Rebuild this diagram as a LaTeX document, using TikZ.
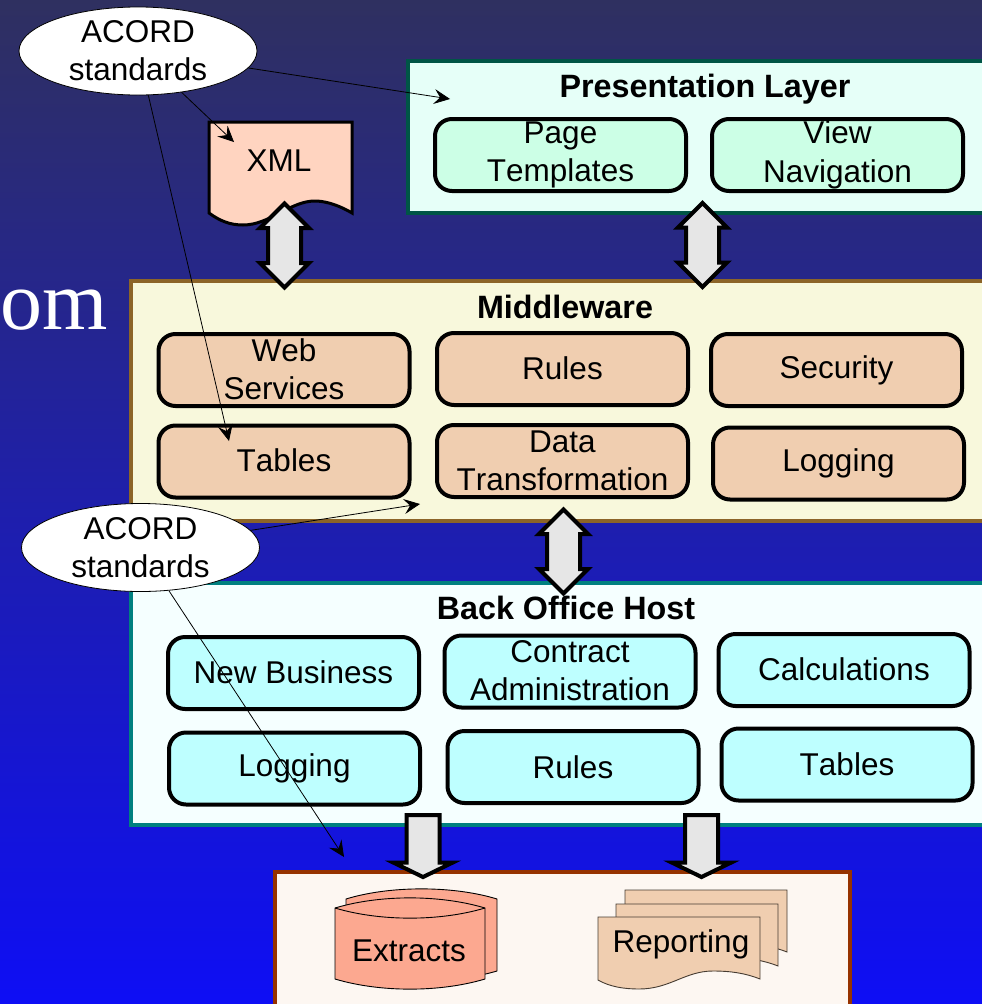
\documentclass[tikz,border=0pt]{standalone}
\usepackage{fontspec}
\setmainfont[Kerning=Off]{Liberation Sans}
\newfontfamily\romfont{Liberation Serif}
\usetikzlibrary{shapes,shapes.arrows,arrows.meta}
\definecolor{bgtop}{RGB}{47,48,96}
\definecolor{bgbottom}{RGB}{14,14,245}

\begin{document}
\begin{tikzpicture}[x=1pt,y=-1pt]
    \tikzstyle{every node}=[font=\fontsize{31.5}{38.5}\selectfont,align=center,inner sep=0pt]
    \tikzstyle{layerbox}=[rectangle,line width=4pt]
    \tikzstyle{itembox}=[rectangle,draw,line width=4pt,rounded corners=17pt,minimum width=251pt,minimum height=72pt]
    \tikzstyle{topitem}=[itembox,fill={rgb,255:red,204;green,255;blue,230}]
    \tikzstyle{miditem}=[itembox,fill={rgb,255:red,240;green,206;blue,176}]
    \tikzstyle{backitem}=[itembox,fill={rgb,255:red,190;green,255;blue,255}]
    \tikzstyle{title}=[font=\fontsize{32.3}{38}\selectfont\bfseries]
    \tikzstyle{bothways}=[double arrow,draw,line width=4pt,fill={rgb,255:red,230;green,230;blue,230},inner sep=14.5pt,minimum height=84pt,double arrow head extend=8pt,shape border rotate=90]
    \tikzstyle{oneway}=[single arrow,draw,line width=4pt,fill={rgb,255:red,230;green,230;blue,230},inner sep=14.5pt,minimum height=62pt,single arrow head extend=13pt,single arrow tip angle=128,shape border rotate=270]
    \tikzstyle{acord}=[ellipse,draw,fill=white,line width=0.8pt,minimum width=238pt,minimum height=88pt]
    \tikzstyle{pointer}=[-{Stealth[length=16pt,width=15pt,inset=6pt]},line width=0.8pt]
    \clip (0,0) rectangle (982,1004);
    \shade[top color=bgtop,bottom color=bgbottom] (0,0) rectangle (982,1004);
    \node[text=white,font=\romfont\fontsize{84}{90}\selectfont,anchor=base west] (rom) at (0,329) {om};
    % layers
    \node[layerbox,draw={rgb,255:red,0;green,85;blue,70},fill={rgb,255:red,230;green,255;blue,248},minimum width=652pt,minimum height=152pt] (presentation) at (734,137) {};
    \node[layerbox,draw={rgb,255:red,140;green,100;blue,40},fill={rgb,255:red,248;green,248;blue,220},minimum width=929pt,minimum height=240pt] (middleware) at (595.5,401) {};
    \node[layerbox,draw={rgb,255:red,0;green,128;blue,128},fill={rgb,255:red,245;green,255;blue,255},minimum width=929pt,minimum height=242pt] (backoffice) at (595.5,704) {};
    \node[layerbox,draw={rgb,255:red,150;green,50;blue,0},fill={rgb,255:red,253;green,247;blue,242},minimum width=575pt,minimum height=200pt] (output) at (562.5,972) {};
    \node[title] (presentationtitle) at (705,89) {Presentation Layer};
    \node[title] (middlewaretitle) at (565,307) {Middleware};
    \node[title] (backofficetitle) at (566,608) {Back Office Host};
    % presentation
    \node[topitem] (pages) at (560.5,155) {Page\\Templates};
    \node[topitem] (navigation) at (837.5,155) {View\\Navigation};
    % middleware
    \node[miditem] (webservices) at (284,370) {\raisebox{2pt}{Web}\\\raisebox{2pt}{Services}};
    \node[miditem] (midrules) at (562.5,369) {\raisebox{2pt}{Rules}};
    \node[miditem] (security) at (836.5,370) {\raisebox{-2pt}{Security}};
    \node[miditem] (midtables) at (284,461.5) {\raisebox{2pt}{Tables}};
    \node[miditem] (transform) at (562.5,461) {Data\\Transformation};
    \node[miditem] (midlogging) at (838.5,463.5) {\raisebox{-2pt}{Logging}};
    % back office
    \node[backitem] (newbusiness) at (293.5,673) {\raisebox{2pt}{New Business}};
    \node[backitem] (contract) at (570,671.5) {\raisebox{2pt}{Contract}\\\raisebox{2pt}{Administration}};
    \node[backitem] (calculations) at (844,670) {\raisebox{2pt}{Calculations}};
    \node[backitem] (backlogging) at (294.5,768.5) {Logging};
    \node[backitem] (backrules) at (573,767) {Rules};
    \node[backitem] (backtables) at (847,764.5) {Tables};
    % xml page
    \draw[line width=3pt,fill={rgb,255:red,255;green,212;blue,192}] (209,122) -- (352,122) -- (352,213) .. controls (335,203) and (322,201) .. (315,201) .. controls (290,201) and (270,225) .. (243,225) .. controls (230,225) and (220,221) .. (209,213) -- cycle;
    \node (xml) at (279,161) {XML};
    % extracts
    \draw[line width=0.9pt,fill={rgb,255:red,252;green,168;blue,144}] (346,899) .. controls (390,885.5) and (453,885.5) .. (497,899) -- (497,971) .. controls (453,984) and (390,984) .. (346,971) -- cycle;
    \draw[line width=0.9pt,fill={rgb,255:red,252;green,168;blue,144}] (335,908) .. controls (380,894.5) and (440,894.5) .. (485,908) -- (485,979) .. controls (440,992.5) and (380,992.5) .. (335,979) -- cycle;
    \draw[line width=0.9pt] (335,908) .. controls (380,921.5) and (440,921.5) .. (485,908);
    \node (extracts) at (409,951) {Extracts};
    % reporting
    \foreach \dx/\dy in {27/-27,18/-13,0/0} {
      \draw[line width=0.9pt,draw={rgb,255:red,70;green,60;blue,50},fill={rgb,255:red,240;green,206;blue,176},shift={(\dx,\dy)}] (598,917) -- (760,917) -- (760,979) .. controls (745,973) and (730,971) .. (713,971) .. controls (685,971) and (670,989) .. (639,989) .. controls (625,989) and (610,987) .. (598,980) -- cycle;
    }
    \node (reporting) at (681,944) {Reporting};
    % block arrows
    \node[bothways] (xmlarrow) at (284.5,245.5) {};
    \node[bothways] (toparrow) at (702.5,245) {};
    \node[bothways] (midarrow) at (563.5,551.5) {};
    \node[oneway] (extractarrow) at (423,842) {};
    \node[oneway] (reportarrow) at (701.5,842) {};
    % standards
    \coordinate (presentationend) at (450,99);
    \coordinate (xmlend) at (234,142);
    \coordinate (tablesend) at (229,441);
    \coordinate (middlewareend) at (420,504);
    \coordinate (extractsend) at (344,857);
    \node[acord] (acordtop) at (138,51) {\raisebox{1pt}{ACORD}\\\raisebox{1pt}{standards}};
    \node[acord] (acordlow) at (140.5,547.5) {ACORD\\standards};
    \draw[pointer] (acordtop) -- (presentationend);
    \draw[pointer] (acordtop) -- (xmlend);
    \draw[pointer] (acordtop) -- (tablesend);
    \draw[pointer] (acordlow) -- (middlewareend);
    \draw[pointer] (acordlow) -- (extractsend);
\end{tikzpicture}
\end{document}
